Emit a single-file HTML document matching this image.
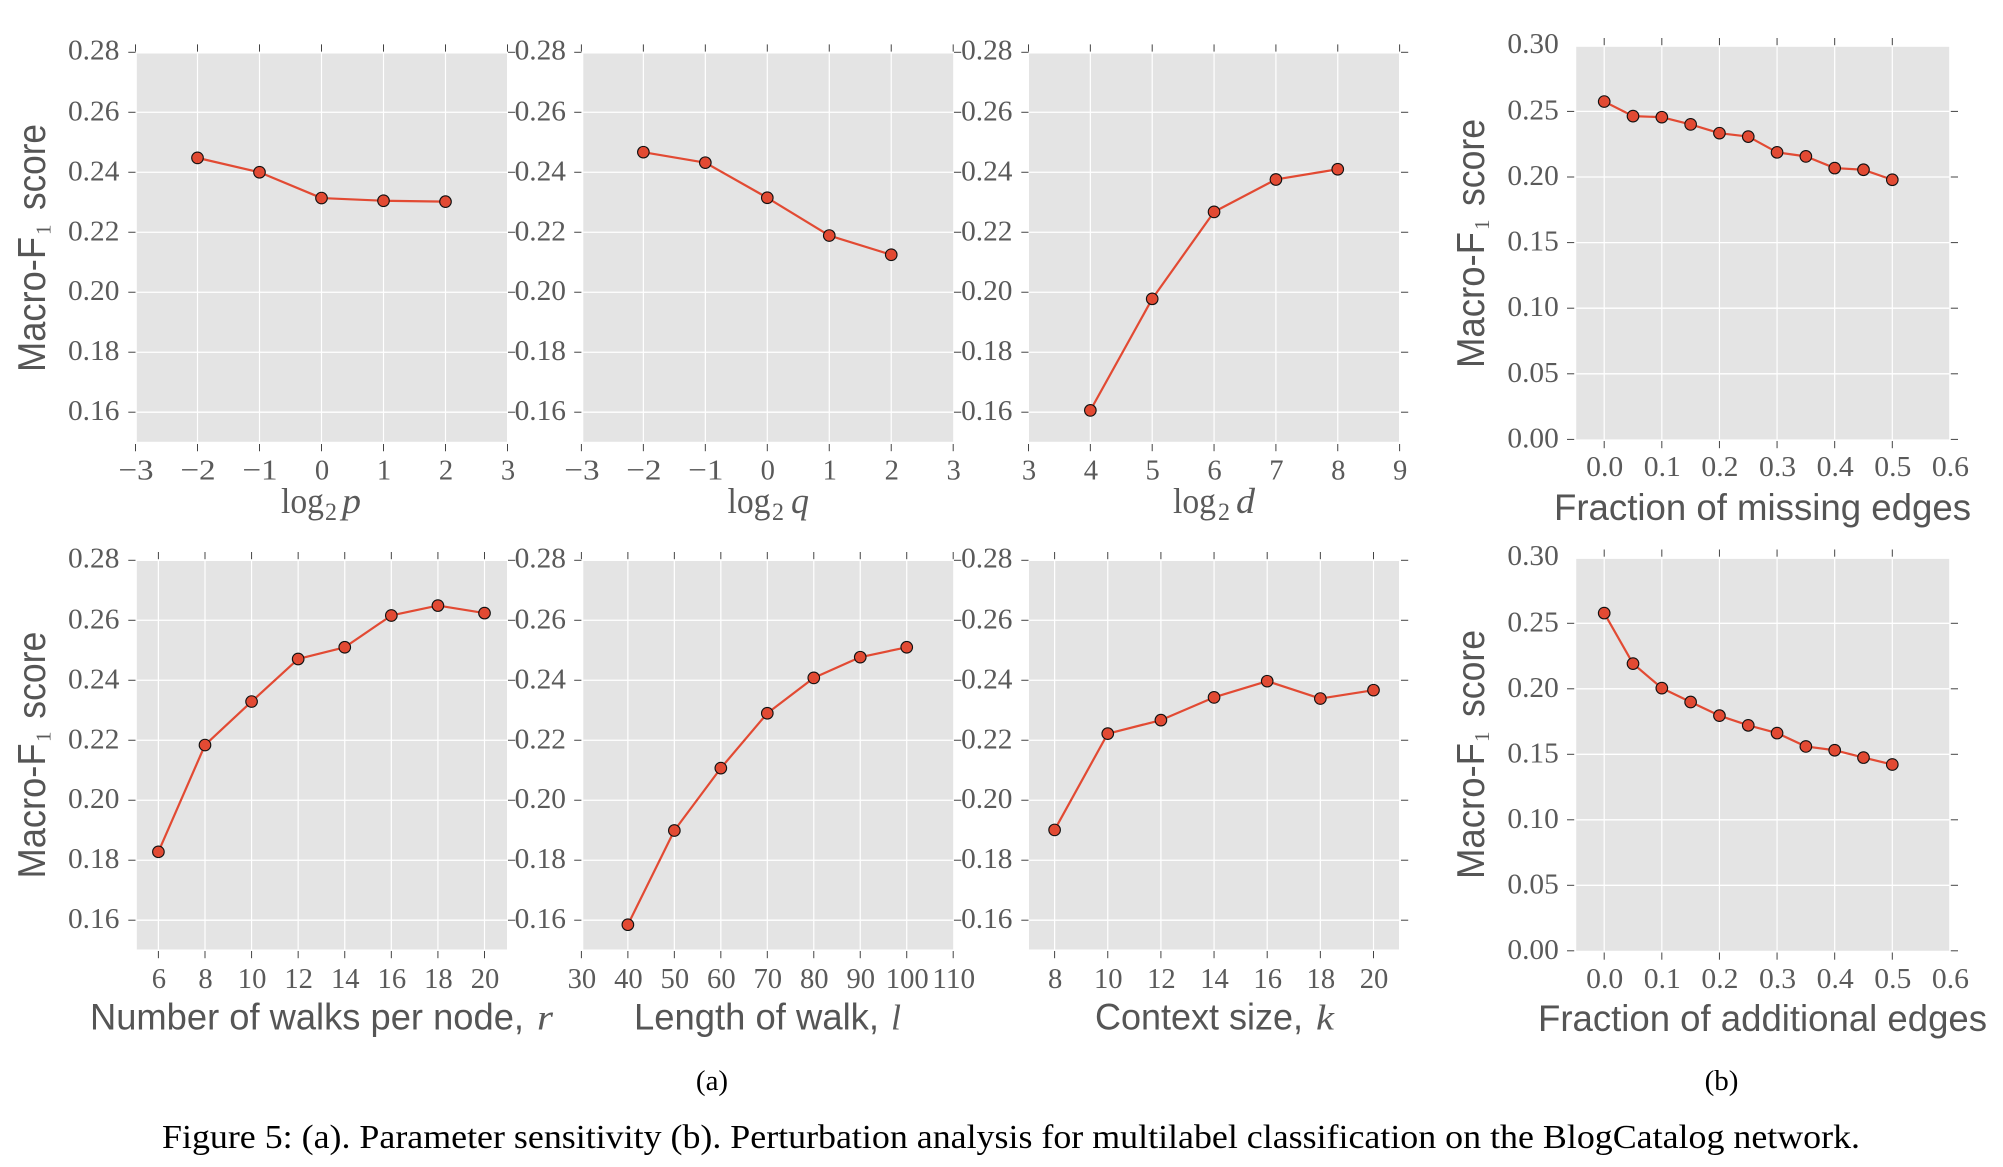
<!DOCTYPE html>
<html lang="en">
<head>
<meta charset="utf-8">
<title>Figure 5: Parameter sensitivity and perturbation analysis</title>
<style>
html,body{margin:0;padding:0;background:#fff;width:2003px;height:1167px;overflow:hidden}
svg{display:block}
.tk{font-family:"Liberation Serif",serif;font-size:29px;fill:#5a5a5a}
.ax{font-family:"Liberation Sans",sans-serif;font-size:37px;fill:#555}
.yl{font-family:"Liberation Sans",sans-serif;font-size:39px;fill:#555}
.sb{font-family:"Liberation Serif",serif;font-size:21px;fill:#5a5a5a}
.lg{font-family:"Liberation Serif",serif;font-size:36px;fill:#5a5a5a}
.lgs{font-family:"Liberation Serif",serif;font-size:25px;fill:#5a5a5a}
.it{font-family:"Liberation Serif",serif;font-style:italic;font-size:36px;fill:#5a5a5a}
.cap{font-family:"Liberation Serif",serif;fill:#000}
</style>
</head>
<body>
<svg id="fig" xmlns="http://www.w3.org/2000/svg" width="2003" height="1167" viewBox="0 0 2003 1167">
  <rect x="0" y="0" width="2003" height="1167" fill="#fff"/>
  <g id="panels"></g>

  <!-- y axis titles -->
  <g>
    <text class="yl" transform="translate(45.2 372) rotate(-90)" textLength="135" lengthAdjust="spacingAndGlyphs">Macro-F</text>
    <text class="sb" transform="translate(50.5 235) rotate(-90)">1</text>
    <text class="yl" transform="translate(45.2 210) rotate(-90)" textLength="86" lengthAdjust="spacingAndGlyphs">score</text>
  </g>
  <g>
    <text class="yl" transform="translate(45.2 878.5) rotate(-90)" textLength="135" lengthAdjust="spacingAndGlyphs">Macro-F</text>
    <text class="sb" transform="translate(50.5 742) rotate(-90)">1</text>
    <text class="yl" transform="translate(45.2 718.7) rotate(-90)" textLength="87" lengthAdjust="spacingAndGlyphs">score</text>
  </g>
  <g>
    <text class="yl" transform="translate(1483.8 368) rotate(-90)" textLength="136" lengthAdjust="spacingAndGlyphs">Macro-F</text>
    <text class="sb" transform="translate(1489 230) rotate(-90)">1</text>
    <text class="yl" transform="translate(1483.8 206) rotate(-90)" textLength="87" lengthAdjust="spacingAndGlyphs">score</text>
  </g>
  <g>
    <text class="yl" transform="translate(1483.8 879) rotate(-90)" textLength="136" lengthAdjust="spacingAndGlyphs">Macro-F</text>
    <text class="sb" transform="translate(1489 742) rotate(-90)">1</text>
    <text class="yl" transform="translate(1483.8 717) rotate(-90)" textLength="87" lengthAdjust="spacingAndGlyphs">score</text>
  </g>

  <!-- x axis titles -->
  <g>
    <text class="lg" x="281" y="513" textLength="43" lengthAdjust="spacingAndGlyphs">log</text>
    <text class="lgs" x="325" y="520" textLength="12" lengthAdjust="spacingAndGlyphs">2</text>
    <text class="it" x="342" y="513" textLength="19" lengthAdjust="spacingAndGlyphs">p</text>
  </g>
  <g>
    <text class="lg" x="727.5" y="513" textLength="43" lengthAdjust="spacingAndGlyphs">log</text>
    <text class="lgs" x="772" y="520" textLength="12" lengthAdjust="spacingAndGlyphs">2</text>
    <text class="it" x="791" y="513" textLength="18" lengthAdjust="spacingAndGlyphs">q</text>
  </g>
  <g>
    <text class="lg" x="1173" y="513" textLength="43" lengthAdjust="spacingAndGlyphs">log</text>
    <text class="lgs" x="1218" y="520" textLength="12" lengthAdjust="spacingAndGlyphs">2</text>
    <text class="it" x="1236" y="513" textLength="19" lengthAdjust="spacingAndGlyphs">d</text>
  </g>
  <g>
    <text class="ax" x="90" y="1029.3" textLength="434" lengthAdjust="spacingAndGlyphs">Number of walks per node,</text>
    <text class="it" x="537" y="1029.3" textLength="16" lengthAdjust="spacingAndGlyphs">r</text>
  </g>
  <g>
    <text class="ax" x="634" y="1029.3" textLength="245" lengthAdjust="spacingAndGlyphs">Length of walk,</text>
    <text class="it" x="891" y="1029.3" textLength="10" lengthAdjust="spacingAndGlyphs">l</text>
  </g>
  <g>
    <text class="ax" x="1095" y="1029.3" textLength="208" lengthAdjust="spacingAndGlyphs">Context size,</text>
    <text class="it" x="1316" y="1029.3" textLength="18" lengthAdjust="spacingAndGlyphs">k</text>
  </g>
  <text class="ax" x="1554" y="520" textLength="417" lengthAdjust="spacingAndGlyphs">Fraction of missing edges</text>
  <text class="ax" x="1538" y="1031" textLength="449" lengthAdjust="spacingAndGlyphs">Fraction of additional edges</text>

  <!-- captions -->
  <text class="cap" x="712" y="1090" font-size="29" text-anchor="middle">(a)</text>
  <text class="cap" x="1721.5" y="1090" font-size="29" text-anchor="middle">(b)</text>
  <text class="cap" x="162" y="1148" font-size="34" textLength="1698" lengthAdjust="spacingAndGlyphs">Figure 5: (a). Parameter sensitivity (b). Perturbation analysis for multilabel classification on the BlogCatalog network.</text>
</svg>

<script>
// ---- shared y ticks ----
const yTicksA = [0.16, 0.18, 0.20, 0.22, 0.24, 0.26, 0.28];
const yLabelsA = ["0.16", "0.18", "0.20", "0.22", "0.24", "0.26", "0.28"];
const yTicksB = [0.00, 0.05, 0.10, 0.15, 0.20, 0.25, 0.30];
const yLabelsB = ["0.00", "0.05", "0.10", "0.15", "0.20", "0.25", "0.30"];

// ---- log2 p ----
const pTicks = [-3, -2, -1, 0, 1, 2, 3];
const pTickLabels = ["\u22123", "\u22122", "\u22121", "0", "1", "2", "3"];
const pCategories = [-2, -1, 0, 1, 2];
const pValues = [0.2448, 0.2400, 0.2314, 0.2305, 0.2302];

// ---- log2 q ----
const qTicks = [-3, -2, -1, 0, 1, 2, 3];
const qTickLabels = ["\u22123", "\u22122", "\u22121", "0", "1", "2", "3"];
const qCategories = [-2, -1, 0, 1, 2];
const qValues = [0.2467, 0.2432, 0.2315, 0.2189, 0.2125];

// ---- log2 d ----
const dTicks = [3, 4, 5, 6, 7, 8, 9];
const dTickLabels = ["3", "4", "5", "6", "7", "8", "9"];
const dCategories = [4, 5, 6, 7, 8];
const dValues = [0.1606, 0.1978, 0.2268, 0.2376, 0.2410];

// ---- walks per node r ----
const rTicks = [6, 8, 10, 12, 14, 16, 18, 20];
const rTickLabels = ["6", "8", "10", "12", "14", "16", "18", "20"];
const rCategories = [6, 8, 10, 12, 14, 16, 18, 20];
const rValues = [0.1828, 0.2184, 0.2329, 0.2471, 0.2510, 0.2616, 0.2649, 0.2624];

// ---- walk length l ----
const lTicks = [30, 40, 50, 60, 70, 80, 90, 100, 110];
const lTickLabels = ["30", "40", "50", "60", "70", "80", "90", "100", "110"];
const lCategories = [40, 50, 60, 70, 80, 90, 100];
const lValues = [0.1585, 0.1899, 0.2107, 0.2290, 0.2408, 0.2477, 0.2510];

// ---- context size k ----
const kTicks = [8, 10, 12, 14, 16, 18, 20];
const kTickLabels = ["8", "10", "12", "14", "16", "18", "20"];
const kCategories = [8, 10, 12, 14, 16, 18, 20];
const kValues = [0.1901, 0.2222, 0.2267, 0.2343, 0.2397, 0.2339, 0.2367];

// ---- missing edges ----
const fracTicks = [0.0, 0.1, 0.2, 0.3, 0.4, 0.5, 0.6];
const fracTickLabels = ["0.0", "0.1", "0.2", "0.3", "0.4", "0.5", "0.6"];
const missingCategories = [0.00, 0.05, 0.10, 0.15, 0.20, 0.25, 0.30, 0.35, 0.40, 0.45, 0.50];
const missingValues = [0.2575, 0.2464, 0.2456, 0.2401, 0.2334, 0.2308, 0.2188, 0.2157, 0.2068, 0.2055, 0.1979];

// ---- additional edges ----
const additionalCategories = [0.00, 0.05, 0.10, 0.15, 0.20, 0.25, 0.30, 0.35, 0.40, 0.45, 0.50];
const additionalValues = [0.2578, 0.2192, 0.2005, 0.1899, 0.1795, 0.1721, 0.1662, 0.1560, 0.1531, 0.1475, 0.1422];

const NS = "http://www.w3.org/2000/svg";
const root = document.getElementById("panels");

function make(parent, tag, attrs) {
  const el = document.createElementNS(NS, tag);
  for (const k in attrs) el.setAttribute(k, attrs[k]);
  parent.appendChild(el);
  return el;
}
function labelWidth(s) {
  let w = 0;
  for (const c of s) w += c === "." ? 8.5 : (c === "\u2212" ? 21 : 14.3);
  return w;
}

function drawPanel(name, box, xTicks, xLabels, yTicks, yLabels, cats, vals) {
  const sx = v => box.xa + (v - box.va) * (box.xb - box.xa) / (box.vb - box.va);
  const sy = v => box.ya + (v - box.ua) * (box.yb - box.ya) / (box.ub - box.ua);

  const g = make(root, "g", {});
  
  

  const bg = make(g, "rect", {x: box.left, y: box.top, width: box.right - box.left, height: box.bottom - box.top, fill: "#e4e4e4"});
  
  

  // grid + y ticks + labels
  yTicks.forEach((t, i) => {
    const y = sy(t);
    if (y > box.top + 2 && y < box.bottom - 2) {
      const gl = make(g, "line", {x1: box.left, x2: box.right, y1: y, y2: y, stroke: "#fff", "stroke-width": 1.3});
      
      
    }
    if (!(box.noTopYTick && i === yTicks.length - 1)) {
      const tl = make(g, "line", {x1: box.tickLeft - 7.2, x2: box.tickLeft, y1: y, y2: y, stroke: "#444", "stroke-width": 1});
      
      
      const tr = make(g, "line", {x1: box.tickRight, x2: box.tickRight + 7.2, y1: y, y2: y, stroke: "#444", "stroke-width": 1});
      
      
    }
    const topShift = i === yTicks.length - 1 ? 1 : 0;
    const lb = make(g, "text", {class: "tk", x: box.labelRight, y: y + 8 - topShift, "text-anchor": "end", textLength: labelWidth(yLabels[i]), lengthAdjust: "spacingAndGlyphs"});
    lb.textContent = yLabels[i];
    
    
  });

  // x grid + ticks + labels
  xTicks.forEach((t, i) => {
    const x = sx(t);
    if (x > box.left + 2 && x < box.right - 2) {
      const gl = make(g, "line", {x1: x, x2: x, y1: box.top, y2: box.bottom, stroke: "#fff", "stroke-width": 1.2});
      
      
    }
    if (!(box.noLastXTick && i === xTicks.length - 1)) {
      const tt = make(g, "line", {x1: x, x2: x, y1: box.topTick, y2: box.topTick + 7.2, stroke: "#444", "stroke-width": 1});
      
      
      const tb = make(g, "line", {x1: x, x2: x, y1: box.bottomTick, y2: box.bottomTick + 7.2, stroke: "#444", "stroke-width": 1});
      
      
    }
    const lb = make(g, "text", {class: "tk", x: x + 0.5, y: box.xLabelBase, "text-anchor": "middle", textLength: labelWidth(xLabels[i]), lengthAdjust: "spacingAndGlyphs"});
    lb.textContent = xLabels[i];
    
    
  });

  // series
  const pts = cats.map((c, i) => sx(c) + "," + sy(vals[i])).join(" ");
  const line = make(g, "polyline", {points: pts, fill: "none", stroke: "#E24A33", "stroke-width": 2.2, "stroke-linejoin": "round"});
  
  
  cats.forEach((c, i) => {
    const m = make(g, "circle", {cx: sx(c), cy: sy(vals[i]), r: 5.8, fill: "#E24A33", stroke: "#111", "stroke-width": 1.1});
    
    
  });
}

const rowA = {top: 53.5, bottom: 441.8, ya: 412.2, ua: 0.16, yb: 52.3, ub: 0.28, topTick: 44.4, bottomTick: 444, xLabelBase: 479.7};
const rowB = {top: 561, bottom: 949.5, ya: 920.2, ua: 0.16, yb: 560.3, ub: 0.28, topTick: 552, bottomTick: 951, xLabelBase: 988};
const col1 = {left: 136.8, right: 507, tickLeft: 135.5, tickRight: 508, labelRight: 119.4};
const col2 = {left: 583.3, right: 953.2, tickLeft: 581.4, tickRight: 954, labelRight: 566};
const col3 = {left: 1029, right: 1399, tickLeft: 1028.5, tickRight: 1401, labelRight: 1012.5};
const colB = {left: 1576.2, right: 1949.2, tickLeft: 1574.2, tickRight: 1950.8, labelRight: 1558.8, noTopYTick: true, noLastXTick: true, xa: 1604.2, va: 0, xb: 1892.3, vb: 0.5};

drawPanel("log2-p", {...rowA, ...col1, xa: 135.5, va: -3, xb: 507.5, vb: 3}, pTicks, pTickLabels, yTicksA, yLabelsA, pCategories, pValues);
drawPanel("log2-q", {...rowA, ...col2, xa: 581.4, va: -3, xb: 953.2, vb: 3}, qTicks, qTickLabels, yTicksA, yLabelsA, qCategories, qValues);
drawPanel("log2-d", {...rowA, ...col3, xa: 1028.5, va: 3, xb: 1399.6, vb: 9}, dTicks, dTickLabels, yTicksA, yLabelsA, dCategories, dValues);
drawPanel("walks-per-node", {...rowB, ...col1, xa: 158.4, va: 6, xb: 484.5, vb: 20}, rTicks, rTickLabels, yTicksA, yLabelsA, rCategories, rValues);
drawPanel("walk-length", {...rowB, ...col2, xa: 581.4, va: 30, xb: 953.2, vb: 110}, lTicks, lTickLabels, yTicksA, yLabelsA, lCategories, lValues);
drawPanel("context-size", {...rowB, ...col3, xa: 1054.6, va: 8, xb: 1373.5, vb: 20}, kTicks, kTickLabels, yTicksA, yLabelsA, kCategories, kValues);
drawPanel("missing-edges", {...colB, top: 46.8, bottom: 439.4, ya: 439.4, ua: 0, yb: 45.8, ub: 0.30, topTick: 38, bottomTick: 441, xLabelBase: 476.2}, fracTicks, fracTickLabels, yTicksB, yLabelsB, missingCategories, missingValues);
drawPanel("additional-edges", {...colB, top: 558.9, bottom: 950.8, ya: 950.8, ua: 0, yb: 557.8, ub: 0.30, topTick: 549.5, bottomTick: 952.5, xLabelBase: 988}, fracTicks, fracTickLabels, yTicksB, yLabelsB, additionalCategories, additionalValues);
</script>
</body>
</html>
